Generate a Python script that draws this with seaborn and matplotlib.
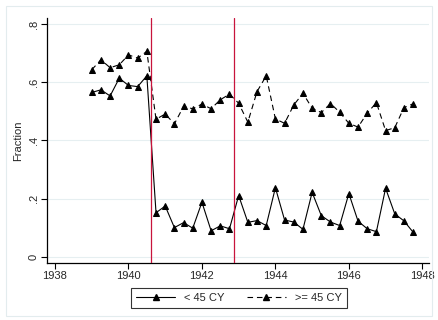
import numpy as np
import pandas as pd
import seaborn as sns
import matplotlib
matplotlib.use("Agg")
import matplotlib.pyplot as plt
from matplotlib.lines import Line2D
from matplotlib.patches import Rectangle

# ---- data ----
quarters = [1939.0, 1939.25, 1939.5, 1939.75, 1940.0, 1940.25, 1940.5, 1940.75,
            1941.0, 1941.25, 1941.5, 1941.75, 1942.0, 1942.25, 1942.5, 1942.75,
            1943.0, 1943.25, 1943.5, 1943.75, 1944.0, 1944.25, 1944.5, 1944.75,
            1945.0, 1945.25, 1945.5, 1945.75, 1946.0, 1946.25, 1946.5, 1946.75,
            1947.0, 1947.25, 1947.5, 1947.75]
under45 = [0.565, 0.574, 0.553, 0.614, 0.589, 0.585, 0.622, 0.152,
           0.175, 0.101, 0.118, 0.099, 0.188, 0.090, 0.107, 0.097,
           0.211, 0.119, 0.125, 0.108, 0.238, 0.127, 0.120, 0.095,
           0.222, 0.142, 0.120, 0.108, 0.218, 0.123, 0.097, 0.087,
           0.236, 0.148, 0.124, 0.085]
over45 = [0.643, 0.677, 0.650, 0.660, 0.694, 0.683, 0.706, 0.473,
          0.491, 0.457, 0.517, 0.509, 0.525, 0.509, 0.540, 0.559,
          0.528, 0.463, 0.568, 0.622, 0.474, 0.459, 0.522, 0.562,
          0.511, 0.496, 0.527, 0.497, 0.459, 0.446, 0.494, 0.530,
          0.434, 0.444, 0.513, 0.526]
series_names = ["< 45 CY", ">= 45 CY"]
vlines = [1940.625, 1942.875]
xticks = [1938, 1940, 1942, 1944, 1946, 1948]
yticks = [0, 0.2, 0.4, 0.6, 0.8]
ytick_labels = ["0", ".2", ".4", ".6", ".8"]

df = pd.DataFrame({
    "year": quarters * 2,
    "frac": under45 + over45,
    "group": [series_names[0]] * len(quarters) + [series_names[1]] * len(quarters),
})

sns.set_style("white")
plt.rcParams["font.family"] = ["Liberation Sans", "DejaVu Sans"]

fig = plt.figure(figsize=(4.38, 3.2), dpi=100)
fig.patch.set_facecolor("white")
ax = fig.add_axes([47.3 / 438, 1 - 263 / 320, (429.3 - 47.3) / 438, (263 - 18) / 320])

# faint outer frame
fig.patches.append(Rectangle((5.5 / 438, 1 - 316 / 320), (432 - 5.5) / 438, (316 - 6) / 320,
                             transform=fig.transFigure, fill=False,
                             edgecolor="#e3ecee", linewidth=0.8))

for yt in yticks:
    ax.axhline(yt, color="#e6eff1", linewidth=0.8, zorder=0)

MS = 3.7
sns.lineplot(data=df, x="year", y="frac", hue="group", style="group",
             palette=["black", "black"],
             dashes={series_names[0]: "", series_names[1]: (5, 3.5)},
             markers={series_names[0]: "^", series_names[1]: "^"},
             markersize=MS, markeredgecolor="black", linewidth=0.8,
             legend=False, ax=ax, zorder=3)

for v in vlines:
    ax.axvline(v, color="#c8143c", linewidth=0.9, zorder=4)

ax.set_xlim(1937.79, 1948.19)
ax.set_ylim(-0.0206, 0.8206)
ax.set_xticks(xticks)
ax.set_xticklabels([str(x) for x in xticks], fontsize=8)
ax.set_yticks(yticks)
ax.set_yticklabels(ytick_labels, fontsize=8, rotation=90, va="center")
ax.set_xlabel("")
ax.set_ylabel("Fraction", fontsize=8, labelpad=4)
ax.tick_params(axis="both", direction="out", length=4, width=0.8, color="black",
               bottom=True, left=True, pad=2)
for s in ["top", "right"]:
    ax.spines[s].set_visible(False)
for s in ["left", "bottom"]:
    ax.spines[s].set_color("black")
    ax.spines[s].set_linewidth(0.9)
ax.grid(False)

handles = [
    Line2D([], [], color="black", linewidth=0.8, marker="^", markersize=MS),
    Line2D([], [], color="black", linewidth=0.8, marker="^", markersize=MS,
           dashes=(5, 3.5)),
]
leg = fig.legend(handles, series_names, loc="center", bbox_to_anchor=(239 / 438, 1 - 298 / 320),
                 ncol=2, fontsize=8, frameon=True, fancybox=False, handlelength=3.5,
                 handletextpad=0.8, columnspacing=2.0, borderpad=0.45, numpoints=1)
leg.get_frame().set_edgecolor("black")
leg.get_frame().set_linewidth(0.8)

fig.savefig("out.png", dpi=100, facecolor="white")
